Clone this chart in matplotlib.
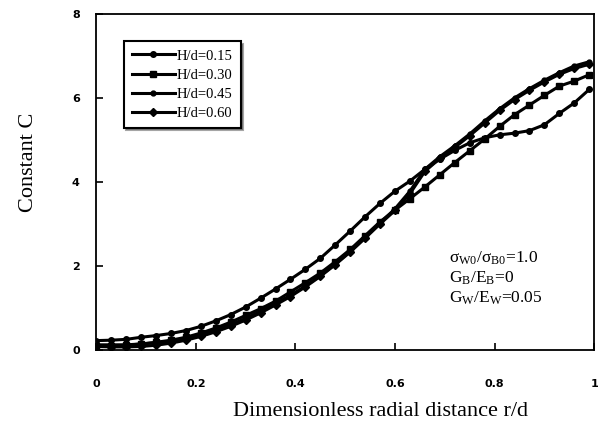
import matplotlib
matplotlib.use("Agg")
import matplotlib.pyplot as plt

plt.rcParams['font.family'] = ['Liberation Serif', 'DejaVu Serif']
plt.rcParams['mathtext.fontset'] = 'custom'
plt.rcParams['mathtext.rm'] = 'Liberation Serif'
plt.rcParams['mathtext.default'] = 'regular'

# radial positions r/d
r = [0.00, 0.03, 0.06, 0.09, 0.12, 0.15, 0.18, 0.21, 0.24, 0.27, 0.30, 0.33,
     0.36, 0.39, 0.42, 0.45, 0.48, 0.51, 0.54, 0.57, 0.60, 0.63, 0.66, 0.69,
     0.72, 0.75, 0.78, 0.81, 0.84, 0.87, 0.90, 0.93, 0.96, 0.99]

c_015 = [0.22, 0.23, 0.25, 0.30, 0.34, 0.39, 0.46, 0.56, 0.69, 0.84, 1.02, 1.23,
         1.45, 1.68, 1.92, 2.18, 2.50, 2.83, 3.17, 3.49, 3.78, 4.02, 4.30, 4.54,
         4.75, 4.93, 5.05, 5.12, 5.16, 5.22, 5.36, 5.63, 5.88, 6.20]
c_030 = [0.10, 0.10, 0.11, 0.14, 0.18, 0.23, 0.30, 0.40, 0.52, 0.66, 0.82, 0.98,
         1.16, 1.38, 1.60, 1.83, 2.10, 2.39, 2.72, 3.05, 3.33, 3.60, 3.88, 4.17,
         4.46, 4.74, 5.02, 5.32, 5.60, 5.83, 6.06, 6.28, 6.40, 6.55]
c_045 = [0.12, 0.12, 0.12, 0.14, 0.17, 0.21, 0.27, 0.36, 0.47, 0.60, 0.75, 0.92,
         1.10, 1.30, 1.52, 1.77, 2.04, 2.35, 2.68, 3.02, 3.36, 3.78, 4.30, 4.60,
         4.86, 5.14, 5.45, 5.74, 6.00, 6.22, 6.42, 6.60, 6.76, 6.86]
c_060 = [0.08, 0.07, 0.07, 0.08, 0.11, 0.16, 0.23, 0.32, 0.43, 0.56, 0.71, 0.88,
         1.07, 1.27, 1.50, 1.75, 2.03, 2.33, 2.66, 3.00, 3.32, 3.72, 4.25, 4.56,
         4.82, 5.10, 5.40, 5.70, 5.96, 6.18, 6.38, 6.56, 6.70, 6.80]

labels = ["H/d=0.15", "H/d=0.30", "H/d=0.45", "H/d=0.60"]
markers = ["o", "s", "o", "D"]
msizes = [4, 5, 3.5, 4]

xticks = [0, 0.2, 0.4, 0.6, 0.8, 1]
xticklabels = ["0", "0.2", "0.4", "0.6", "0.8", "1"]
yticks = [0, 2, 4, 6, 8]

fig = plt.figure(figsize=(6.02, 4.21), dpi=100)
ax = fig.add_axes([0.16, 0.169, 0.827, 0.798])

for y, lab, m, ms in zip([c_015, c_030, c_045, c_060], labels, markers, msizes):
    ax.plot(r, y, color="black", lw=2.2, marker=m, ms=ms, label=lab)

ax.set_xlim(0, 1)
ax.set_ylim(0, 8)
ax.set_xticks(xticks)
ax.set_xticklabels(xticklabels)
ax.set_yticks(yticks)
ax.tick_params(direction="in", length=5, width=1.2)
ax.tick_params(axis="x", pad=21)
ax.tick_params(axis="y", pad=12)
for t in ax.get_xticklabels() + ax.get_yticklabels():
    t.set_fontfamily("DejaVu Sans")
    t.set_fontweight("bold")
    t.set_fontsize(8)
for s in ax.spines.values():
    s.set_linewidth(1.3)

ax.set_xlabel("Dimensionless radial distance r/d", fontsize=16)
ax.set_ylabel("Constant C", fontsize=16)
ax.xaxis.set_label_coords(0.57, -0.155)
ax.yaxis.set_label_coords(-0.118, 0.557)

leg = ax.legend(loc="upper left", bbox_to_anchor=(0.04, 0.94), frameon=True,
                fancybox=False, shadow=True, fontsize=10.5, handlelength=3.0,
                labelspacing=0.4, borderpad=0.55, handletextpad=0.1)
leg.get_frame().set_edgecolor("black")
leg.get_frame().set_linewidth(1.5)

ax.text(0.709, 0.214, r"$\sigma_{W0}/\sigma_{B0}$=1.0" "\n" r"$G_{B}/E_{B}$=0" "\n"
        r"$G_{W}/E_{W}$=0.05", transform=ax.transAxes, fontsize=12.5,
        va="center", ha="left", linespacing=1.2)

fig.savefig("out.png", dpi=100)
